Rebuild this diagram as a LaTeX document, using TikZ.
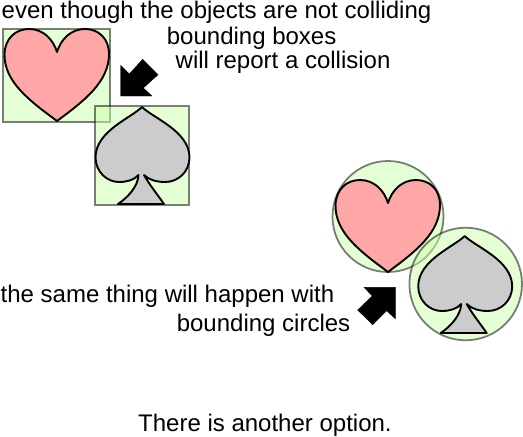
\documentclass[tikz,border=0pt]{standalone}
\usepackage{fontspec}
\setmainfont{Liberation Sans}
\definecolor{boundgreen}{HTML}{CCFFAA}
\definecolor{heartpink}{HTML}{FFA6A6}
\definecolor{spadegray}{HTML}{CCCCCC}
\tikzset{
  bound/.style={draw=black,draw opacity=.5,fill=boundgreen,fill opacity=.5,line width=1.8pt},
  suit/.style={draw=black,line width=1.9pt,line join=round},
  pointer/.style={fill=black},
  caption/.style={font=\fontsize{24}{28}\selectfont,inner sep=0pt,anchor=base west},
  pics/heartshape/.style={code={
    \draw [suit,fill=heartpink] (57,121) .. controls (30,101) and (4,82) .. (4.5,54)
      .. controls (5,38) and (16,29) .. (29,29) .. controls (43,29) and (53,39) .. (57,52)
      .. controls (61,39) and (71,29) .. (85,29) .. controls (98,29) and (109,38) .. (109,54)
      .. controls (109,82) and (84,101) .. (57,121) -- cycle;
  }},
  pics/spadeshape/.style={code={
    \draw [suit,fill=spadegray] (142,107) .. controls (131,118) and (96,131) .. (95.5,157)
      .. controls (95.5,172) and (107,182) .. (119,182) .. controls (127,182) and (134,180) .. (138.5,175)
      .. controls (138,187) and (127,198) .. (118,204) -- (164,204)
      .. controls (157,194) and (149,184) .. (144,175)
      .. controls (149,180) and (157,182) .. (165,182) .. controls (178,182) and (189.5,172) .. (189.5,157)
      .. controls (189,131) and (153,118) .. (142,107) -- cycle;
  }}
}
\begin{document}
\begin{tikzpicture}[x=1pt,y=-1pt]
  \useasboundingbox (0,0) rectangle (523,437);
  % boxes
  \draw [bound] (3,29) rectangle (110,122);
  \pic at (0,0) {heartshape};
  \draw [bound] (95,106) rectangle (189,205);
  \pic at (0,0) {spadeshape};
  \draw [pointer] (120.7,96)--(120.7,65.3)--(129.3,74)--(142.7,59.3)--(158,74.7)--(143.3,88)--(152,96)--cycle;
  % circles
  \draw [bound] (388,216.5) circle (55.5);
  \pic at (331,151) {heartshape};
  \draw [bound] (465.7,284) circle (56.3);
  \pic at (322.7,129) {spadeshape};
  \draw [pointer] (395.3,287.3)--(395.3,318.7)--(386.7,310.7)--(372.7,324.7)--(357.7,310)--(372.3,296)--(364,287.3)--cycle;
  % labels
  \node (boxone) [caption] at (1.5,18) {even though the objects are not colliding};
  \node (boxtwo) [caption] at (166.7,44) {bounding boxes};
  \node (boxthree) [caption] at (175.5,68.5) {will report a collision};
  \node (circleone) [caption] at (0.5,302) {the same thing will happen with};
  \node (circletwo) [caption] at (176.6,331) {bounding circles};
  \node (closing) [caption] at (138,431.5) {There is another option.};
\end{tikzpicture}
\end{document}
